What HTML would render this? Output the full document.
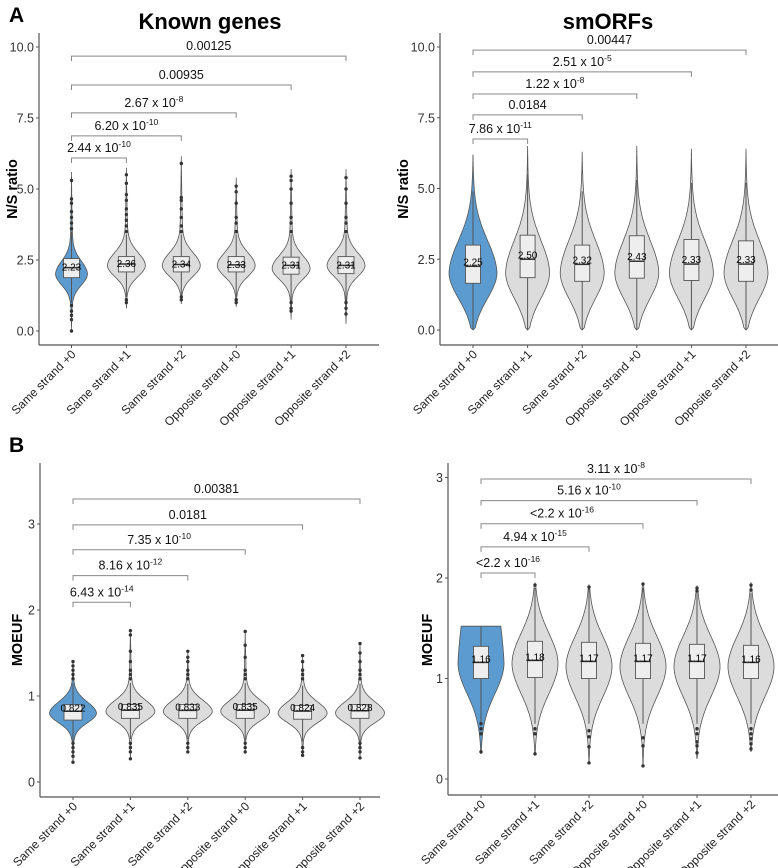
<!DOCTYPE html>
<html><head><meta charset="utf-8"><style>
html,body{margin:0;padding:0;background:#fff}
svg{display:block;font-family:"Liberation Sans",Arial,sans-serif}
</style></head><body>
<svg id="fig" width="778" height="868" viewBox="0 0 778 868" xmlns="http://www.w3.org/2000/svg">
<text x="9" y="22" font-size="21" font-weight="bold">A</text>
<text x="9" y="452" font-size="21" font-weight="bold">B</text>
<text x="210" y="29" font-size="22" font-weight="bold" text-anchor="middle">Known genes</text>
<text x="608" y="29" font-size="22" font-weight="bold" text-anchor="middle">smORFs</text>
</svg>
<script>
const categories = ["Same strand +0","Same strand +1","Same strand +2","Opposite strand +0","Opposite strand +1","Opposite strand +2"];

// Panel A left (Known genes N/S)
const aL_median = [2.23,2.36,2.34,2.33,2.31,2.31];
const aL_q1 = [1.88,2.08,2.08,2.08,2.0,2.02];
const aL_q3 = [2.55,2.62,2.62,2.62,2.6,2.62];
const aL_lo = [1.0,1.2,1.25,1.2,0.9,0.9];
const aL_hi = [3.5,3.4,3.4,3.4,3.4,3.4];
const aL_min = [0.05,0.8,0.95,0.85,0.4,0.25];
const aL_max = [5.6,5.75,6.15,5.4,5.7,5.7];
const aL_peak = [2.0,2.3,2.3,2.3,2.2,2.3];
const aL_out = [[3.6,3.8,4.0,4.2,4.5,4.65,5.3,0.9,0.7,0.55,0.4,0.0],[3.5,3.7,3.9,4.1,4.3,4.6,4.8,5.2,5.5,1.1,1.0],[3.5,3.7,4.0,4.3,4.6,4.7,5.9,1.2,1.1],[3.5,3.8,4.0,4.5,4.9,5.1,1.1,1.0],[3.5,3.8,4.0,4.5,5.0,5.3,5.45,0.8,0.7,1.0],[3.5,3.8,4.0,4.5,5.0,5.4,0.8,0.6,1.0]];
const aL_brk = [6.09,6.87,7.68,8.66,9.68];
const aL_brkLab = [["2.44 x 10","-10"],["6.20 x 10","-10"],["2.67 x 10","-8"],["0.00935",""],["0.00125",""]];
const aL_ticks = [0,2.5,5,7.5,10];
const aL_tickLab = ["0.0","2.5","5.0","7.5","10.0"];

// Panel A right (smORFs N/S)
const aR_median = [2.25,2.50,2.32,2.43,2.33,2.33];
const aR_q1 = [1.65,1.85,1.72,1.83,1.75,1.72];
const aR_q3 = [3.0,3.35,3.0,3.33,3.2,3.15];
const aR_lo = [0,0,0,0,0,0];
const aR_hi = [4.9,5.5,4.9,5.3,5.2,5.2];
const aR_min = [0,0,0,0,0,0];
const aR_max = [6.2,6.5,6.3,6.5,6.4,6.4];
const aR_peak = [2.0,2.0,2.0,2.0,2.0,2.0];
const aR_out = [[],[],[],[],[],[]];
const aR_brk = [6.75,7.6,8.34,9.12,9.89];
const aR_brkLab = [["7.86 x 10","-11"],["0.0184",""],["1.22 x 10","-8"],["2.51 x 10","-5"],["0.00447",""]];
const aR_ticks = aL_ticks;
const aR_tickLab = aL_tickLab;

// Panel B left (Known genes MOEUF)
const bL_median = [0.822,0.835,0.833,0.835,0.824,0.828];
const bL_q1 = [0.72,0.74,0.74,0.74,0.73,0.74];
const bL_q3 = [0.9,0.9,0.9,0.9,0.89,0.9];
const bL_lo = [0.47,0.5,0.5,0.48,0.47,0.47];
const bL_hi = [1.15,1.15,1.14,1.15,1.12,1.14];
const bL_min = [0.22,0.27,0.35,0.35,0.3,0.27];
const bL_max = [1.4,1.76,1.52,1.76,1.47,1.61];
const bL_peak = [0.8,0.82,0.82,0.82,0.8,0.8];
const bL_out = [[1.2,1.25,1.3,1.35,1.4,0.45,0.4,0.35,0.3,0.23],[1.2,1.25,1.3,1.4,1.52,1.71,1.76,0.45,0.4,0.35,0.27],[1.2,1.25,1.3,1.4,1.45,1.52,0.45,0.4,0.35],[1.2,1.25,1.3,1.45,1.59,1.75,0.45,0.4,0.35],[1.2,1.25,1.3,1.4,1.47,0.4,0.35,0.31],[1.2,1.25,1.3,1.4,1.5,1.61,0.45,0.4,0.35,0.28]];
const bL_brk = [2.09,2.40,2.70,2.99,3.29];
const bL_brkLab = [["6.43 x 10","-14"],["8.16 x 10","-12"],["7.35 x 10","-10"],["0.0181",""],["0.00381",""]];
const bL_ticks = [0,1,2,3];
const bL_tickLab = ["0","1","2","3"];

// Panel B right (smORFs MOEUF)
const bR_median = [1.16,1.18,1.17,1.17,1.17,1.16];
const bR_q1 = [1.0,1.01,1.0,1.0,1.0,1.0];
const bR_q3 = [1.32,1.37,1.36,1.35,1.34,1.33];
const bR_lo = [0.55,0.55,0.55,0.55,0.55,0.55];
const bR_hi = [1.52,1.9,1.9,1.9,1.85,1.85];
const bR_min = [0.25,0.25,0.15,0.12,0.2,0.27];
const bR_max = [1.52,1.95,1.93,1.95,1.92,1.95];
const bR_peak = [1.15,1.15,1.12,1.12,1.12,1.12];
const bR_out = [[0.55,0.5,0.45,0.27],[1.93,0.5,0.45,0.25],[1.91,0.48,0.42,0.32,0.16],[1.94,0.41,0.33,0.13],[1.87,1.9,0.5,0.45,0.37,0.33,0.26],[1.93,1.88,0.5,0.45,0.4,0.35,0.3]];
const bR_brk = [2.05,2.31,2.54,2.77,2.985];
const bR_brkLab = [["<2.2 x 10","-16"],["4.94 x 10","-15"],["<2.2 x 10","-16"],["5.16 x 10","-10"],["3.11 x 10","-8"]];
const bR_ticks = bL_ticks;
const bR_tickLab = bL_tickLab;

const NS = "http://www.w3.org/2000/svg";
const svg = document.getElementById("fig");
function mk(tag, attrs, parent){const e=document.createElementNS(NS,tag);for(const k in attrs)e.setAttribute(k,attrs[k]);(parent||svg).appendChild(e);return e;}

function drawPanel(p, d){
  const g = mk("g",{});
  
  
  const y = v => p.y0 - v*p.ppu;
  const x = i => p.c0 + i*p.step;
  const ax = mk("line",{x1:p.ax,y1:p.top,x2:p.ax,y2:p.base,stroke:"#555","stroke-width":1.2},g);
  
  
  const bx = mk("line",{x1:p.ax,y1:p.base,x2:p.right,y2:p.base,stroke:"#555","stroke-width":1.2},g);
  
  
  d.ticks.forEach((t,i)=>{
    mk("line",{x1:p.ax-3,y1:y(t),x2:p.ax,y2:y(t),stroke:"#555"},g);
    const tl = mk("text",{x:p.ax-5,y:y(t)+4.5,"font-size":12.5,"text-anchor":"end",fill:"#333"},g);
    tl.textContent = d.tickLab[i];
    
    
  });
  const yt = mk("text",{x:0,y:0,"font-size":14.5,"font-weight":"bold","text-anchor":"middle",transform:`translate(${p.ytx},${p.yty}) rotate(-90)`},g);
  yt.textContent = p.ytitle;
  
  
  categories.forEach((c,i)=>{
    mk("line",{x1:x(i),y1:p.base,x2:x(i),y2:p.base+3,stroke:"#555"},g);
    const t = mk("text",{x:0,y:0,"font-size":12,"text-anchor":"end",fill:"#222",transform:`translate(${x(i)+5},${p.base+10}) rotate(-45)`},g);
    t.textContent = c;
    
    
  });
  categories.forEach((c,i)=>{
    const cx = x(i), pk = d.peak[i], mn = d.min[i], mx = d.max[i];
    const sLo = p.sLo, sHi = (i===0 && p.sHi0) ? p.sHi0 : p.sHi;
    const W = i===0 ? p.W0 : p.W;
    const pts = [];
    const N = 80;
    for(let k=0;k<=N;k++){
      const v = mn + (mx-mn)*k/N;
      const s = v<pk ? sLo : sHi;
      const gss = Math.exp(-0.5*Math.pow((v-pk)/s,2));
      const tailN = v<pk ? (v-mn)/(pk-mn) : (mx-v)/(mx-pk);
      let w = W*(0.9*gss + p.tail*Math.pow(Math.max(tailN,0),1.2));
      if(k===0||k===N) w = (i===0 && p.flat && k===N) ? w : 0;
      pts.push([cx+w, y(v)]);
    }
    const left = pts.slice().reverse().map(q=>[2*cx-q[0],q[1]]);
    const all = pts.concat(left).map(q=>q[0].toFixed(1)+","+q[1].toFixed(1)).join(" ");
    const vi = mk("polygon",{points:all,fill:i===0?"#5b9bd0":"#dcdcdc",stroke:"#555","stroke-width":0.8},g);
    
    
    mk("line",{x1:cx,y1:y(d.lo[i]),x2:cx,y2:y(d.hi[i]),stroke:"#555","stroke-width":1},g);
    d.out[i].forEach(v=>{
      const o = mk("circle",{cx:cx,cy:y(v),r:1.7,fill:"#333"},g);
      
      
    });
    const bw = p.bw;
    const bxr = mk("rect",{x:cx-bw/2,y:y(d.q3[i]),width:bw,height:y(d.q1[i])-y(d.q3[i]),fill:"#eeeeee",stroke:"#555","stroke-width":0.9},g);
    
    
    mk("line",{x1:cx-bw/2,y1:y(d.median[i]),x2:cx+bw/2,y2:y(d.median[i]),stroke:"#333","stroke-width":1.5},g);
    const ml = mk("text",{x:cx,y:y(d.median[i])+(p.labOff||0),"font-size":10,"text-anchor":"middle",fill:"#000"},g);
    ml.textContent = p.fmt(d.median[i]);
    
    
  });
  d.brk.forEach((b,j)=>{
    const yy = y(b), x1 = x(0), x2 = x(j+1);
    const br = mk("path",{d:`M${x1},${yy+5}V${yy}H${x2}V${yy+5}`,fill:"none",stroke:"#888","stroke-width":1},g);
    
    
    const t = mk("text",{x:(x1+x2)/2,y:yy-6,"font-size":12.5,"text-anchor":"middle",fill:"#111"},g);
    
    
    t.appendChild(document.createTextNode(d.brkLab[j][0]));
    if(d.brkLab[j][1]){const s=mk("tspan",{"font-size":8.5,dy:-5},t);s.textContent=d.brkLab[j][1];}
  });
}
const f2 = v=>v.toFixed(2), f3 = v=>v.toFixed(3);
drawPanel({name:"panel-a-known-genes",ax:39,top:33,base:345,right:379,y0:331,ppu:28.4,c0:71.5,step:54.9,ytitle:"N/S ratio",ytx:17,yty:189,W:19,W0:16,sLo:0.38,sHi:0.45,tail:0.1,bw:16,fmt:f2,labOff:3},
  {median:aL_median,q1:aL_q1,q3:aL_q3,lo:aL_lo,hi:aL_hi,min:aL_min,max:aL_max,peak:aL_peak,out:aL_out,brk:aL_brk,brkLab:aL_brkLab,ticks:aL_ticks,tickLab:aL_tickLab});
drawPanel({name:"panel-a-smorfs",ax:440,top:33,base:345,right:778,y0:330,ppu:28.3,c0:473,step:54.6,ytitle:"N/S ratio",ytx:408,yty:189,W:22,W0:24,sLo:0.9,sHi:1.15,tail:0.1,bw:15,fmt:f2,labOff:-1},
  {median:aR_median,q1:aR_q1,q3:aR_q3,lo:aR_lo,hi:aR_hi,min:aR_min,max:aR_max,peak:aR_peak,out:aR_out,brk:aR_brk,brkLab:aR_brkLab,ticks:aR_ticks,tickLab:aR_tickLab});
drawPanel({name:"panel-b-known-genes",ax:40,top:463,base:797,right:380,y0:782,ppu:86,c0:73,step:57.4,ytitle:"MOEUF",ytx:22,yty:640,W:25,W0:24,sLo:0.11,sHi:0.13,tail:0.08,bw:18,fmt:f3,labOff:0},
  {median:bL_median,q1:bL_q1,q3:bL_q3,lo:bL_lo,hi:bL_hi,min:bL_min,max:bL_max,peak:bL_peak,out:bL_out,brk:bL_brk,brkLab:bL_brkLab,ticks:bL_ticks,tickLab:bL_tickLab});
drawPanel({name:"panel-b-smorfs",ax:448,top:463,base:795,right:778,y0:779,ppu:100.5,c0:481,step:54,ytitle:"MOEUF",ytx:432,yty:640,W:24,W0:24,sLo:0.3,sHi:0.3,sHi0:0.9,tail:0.06,bw:15,fmt:f2,labOff:0,flat:true},
  {median:bR_median,q1:bR_q1,q3:bR_q3,lo:bR_lo,hi:bR_hi,min:bR_min,max:bR_max,peak:bR_peak,out:bR_out,brk:bR_brk,brkLab:bR_brkLab,ticks:bR_ticks,tickLab:bR_tickLab});
</script>
</body></html>
